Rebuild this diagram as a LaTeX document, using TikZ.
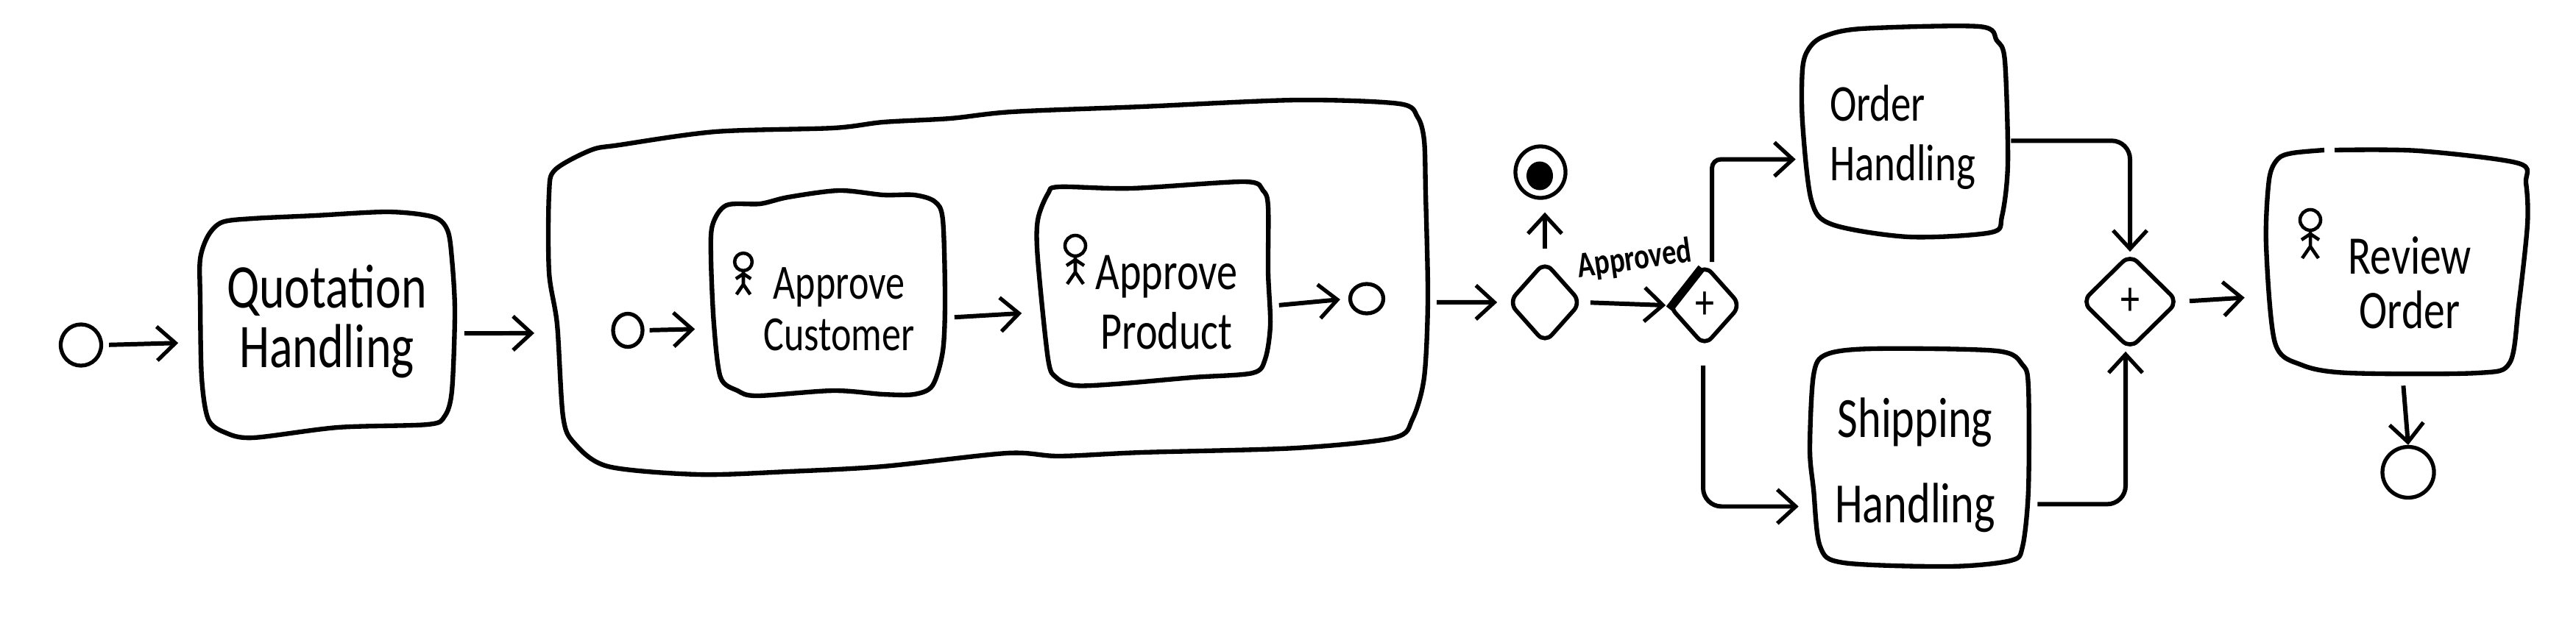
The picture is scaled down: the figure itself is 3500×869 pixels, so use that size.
\documentclass[tikz,border=0pt]{standalone}
\usepackage{fontspec}
\usetikzlibrary{arrows.meta,shapes.geometric}
\newfontfamily\handfont[FakeStretch=0.78]{Carlito}
\tikzset{
  taskbox/.style = {inner sep=0pt},
  outl/.style    = {line width=1.8pt, tension=.5},
  evt/.style     = {ellipse, draw, line width=1.5pt, inner sep=0pt},
  gate/.style    = {diamond, draw, line width=1.6pt, rounded corners=.14cm, inner sep=0pt,
                    font=\handfont\fontsize{19}{19}\selectfont},
  lab/.style     = {align=center, inner sep=0pt, font=\handfont\fontsize{#1}{23}\selectfont},
  smlab/.style   = {inner sep=0pt, font=\handfont\bfseries\fontsize{14}{14}\selectfont},
  flowar/.style  = {-{Straight Barb[length=2.5mm,width=4.6mm,line width=1.5pt]}, line width=1.7pt},
  actor/.pic     = {
    \draw[line width=1.3pt] (0,0) circle (14);
    \draw[line width=1.3pt] (0,14) -- (0,36) (-12,27) -- (0,19) -- (12,27) (-11,52) -- (0,36) -- (11,52);
  }
}
\begin{document}
\begin{tikzpicture}[x=.01cm,y=-.01cm]
  \useasboundingbox (0,0) rectangle (3500,869);
  % tasks
  \node[taskbox,minimum width=3.46cm,minimum height=3.07cm] (quote) at (445,441) {};
  \draw[outl] plot[smooth cycle] coordinates {(302,302) (344,297) (428,293) (528,288) (589,295) (608,313) (614,352) (618,424) (614,531) (604,566) (581,577) (459,581) (344,595) (306,588) (283,570) (274,513) (272,406) (272,352) (283,320)};
  \node[taskbox,minimum width=11.94cm,minimum height=5.09cm] (sub) at (1343,390) {};
  \draw[outl] plot[smooth cycle] coordinates {(803,204) (842,197) (972,179) (1132,174) (1200,166) (1291,161) (1375,152) (1551,145) (1761,136) (1901,141) (1926,159) (1935,191) (1937,263) (1940,406) (1935,513) (1919,570) (1894,595) (1761,609) (1551,615) (1439,620) (1368,616) (1200,634) (1071,641) (949,645) (826,634) (780,602) (765,566) (757,441) (746,370) (746,263) (754,231)};
  \node[taskbox,minimum width=3.18cm,minimum height=2.79cm] (cust) at (1125,398) {};
  \draw[outl] plot[smooth cycle] coordinates {(987,279) (1033,277) (1071,268) (1140,259) (1200,265) (1242,265) (1270,274) (1281,299) (1284,406) (1281,477) (1267,524) (1242,536) (1200,536) (1132,531) (1029,538) (1002,531) (979,513) (970,441) (966,352) (968,306)};
  \node[taskbox,minimum width=3.16cm,minimum height=2.77cm] (prod) at (1568,385) {};
  \draw[outl] plot[smooth cycle] coordinates {(1439,254) (1537,256) (1691,247) (1716,259) (1723,281) (1723,370) (1726,441) (1719,488) (1702,507) (1621,513) (1516,522) (1460,524) (1435,513) (1424,488) (1410,352) (1410,299) (1424,263)};
  \node[taskbox,minimum width=2.79cm,minimum height=2.86cm] (order) at (2588,179) {};
  \draw[outl] plot[smooth cycle] coordinates {(2477,50) (2529,39) (2689,36) (2713,55) (2724,83) (2728,222) (2720,294) (2705,316) (2593,322) (2489,305) (2461,272) (2449,166) (2449,94) (2457,67)};
  \node[taskbox,minimum width=2.97cm,minimum height=2.96cm] (ship) at (2607,622) {};
  \draw[outl] plot[smooth cycle] coordinates {(2481,482) (2545,474) (2713,477) (2748,496) (2756,527) (2756,665) (2748,743) (2732,762) (2649,770) (2505,765) (2473,743) (2464,665) (2459,610) (2464,510)};
  \node[taskbox,minimum width=3.55cm,minimum height=3.03cm] (review) at (3256,355) {};
  \draw[outl] plot[smooth] coordinates {(3172,204) (3286,205) (3422,222) (3432,249) (3434,305) (3422,416) (3410,493) (3366,507) (3191,507) (3127,496) (3091,466) (3079,333) (3083,244) (3095,216) (3115,208) (3158,204)};
  % texts
  \node[lab=24] (quotetxt) at (444,437) {Quotation\\Handling};
  \node[lab=19] (custtxt) at (1140,420) {Approve\\[-3pt]Customer};
  \node[lab=20.5] (prodtxt) at (1585,411) {Approve\\Product};
  \node[lab=20,align=left] (ordertxt) at (2585,187) {Order\\Handling};
  \node[lab=22] (shiptxt) at (2602,632) {Shipping\\[10pt]Handling};
  \node[lab=21] (reviewtxt) at (3274,384) {Review\\[-2pt]Order};
  % events
  \node[evt,minimum width=.55cm,minimum height=.56cm] (start) at (110,469) {};
  \node[evt,minimum width=.40cm,minimum height=.45cm] (substart) at (853,449) {};
  \node[evt,minimum width=.45cm,minimum height=.40cm] (subend) at (1857,406) {};
  \node[evt,minimum width=.68cm,minimum height=.70cm] (rejend) at (2093,234) {};
  \node[ellipse,fill,minimum width=.36cm,minimum height=.39cm,inner sep=0pt] (rejdot) at (2092,239) {};
  \node[evt,minimum width=.70cm,minimum height=.69cm] (endev) at (3272,642) {};
  % gateways
  \node[gate,minimum width=1.00cm,minimum height=1.12cm] (appr) at (2099,411) {};
  \node[gate,minimum width=1.00cm,minimum height=1.12cm] (split) at (2316,415) {+};
  \node[gate,minimum width=1.32cm,minimum height=1.30cm] (join) at (2894,410) {+};
  \draw[line width=3.2pt] ([xshift=.05cm,yshift=-.05cm]split.west) -- ([xshift=-.04cm,yshift=-.08cm]split.north);
  \node[smlab,rotate=8] (apprtxt) at (2221,353) {Approved};
  % actors
  \pic[scale=.85] at (1010,356) {actor};
  \pic at (1461,334) {actor};
  \pic at (3139,299) {actor};
  % flows
  \draw[flowar,shorten <=.08cm,shorten >=.29cm] (start.east) -- (quote.188);
  \draw[flowar,shorten <=.12cm,shorten >=.19cm] (quote.-4) -- (sub.186);
  \draw[flowar,shorten <=.07cm,shorten >=.21cm] (substart.east) -- (cust.197);
  \draw[flowar,shorten <=.12cm,shorten >=.21cm] (cust.-12) -- (prod.194);
  \draw[flowar,shorten <=.11cm,shorten >=.11cm] (prod.-11) -- (subend.west);
  \draw[flowar,shorten <=.11cm,shorten >=.12cm] (sub.-2) -- (appr.west);
  \draw[flowar,shorten <=.14cm,shorten >=.17cm] (appr.north) -- (appr.north |- rejend.south);
  \draw[flowar,shorten <=.09cm] (appr.east) -- (split.west);
  \draw[flowar,rounded corners=.12cm,shorten >=.08cm] ([xshift=.10cm]split.north) |- (order.195);
  \draw[flowar,rounded corners=.25cm,shorten <=.23cm,shorten >=.14cm] ([xshift=-.02cm]split.south) |- (ship.204);
  \draw[flowar,rounded corners=.25cm,shorten <=.04cm] (order.-5) -| (join.north);
  \draw[flowar,rounded corners=.25cm,shorten <=.12cm] (ship.-23) -| ([xshift=-.06cm]join.south);
  \draw[flowar,shorten <=.12cm,shorten >=.28cm] (join.east) -- (review.195);
  \draw[flowar,shorten <=.17cm] ([xshift=.08cm]review.south) -- (endev.north);
\end{tikzpicture}
\end{document}
